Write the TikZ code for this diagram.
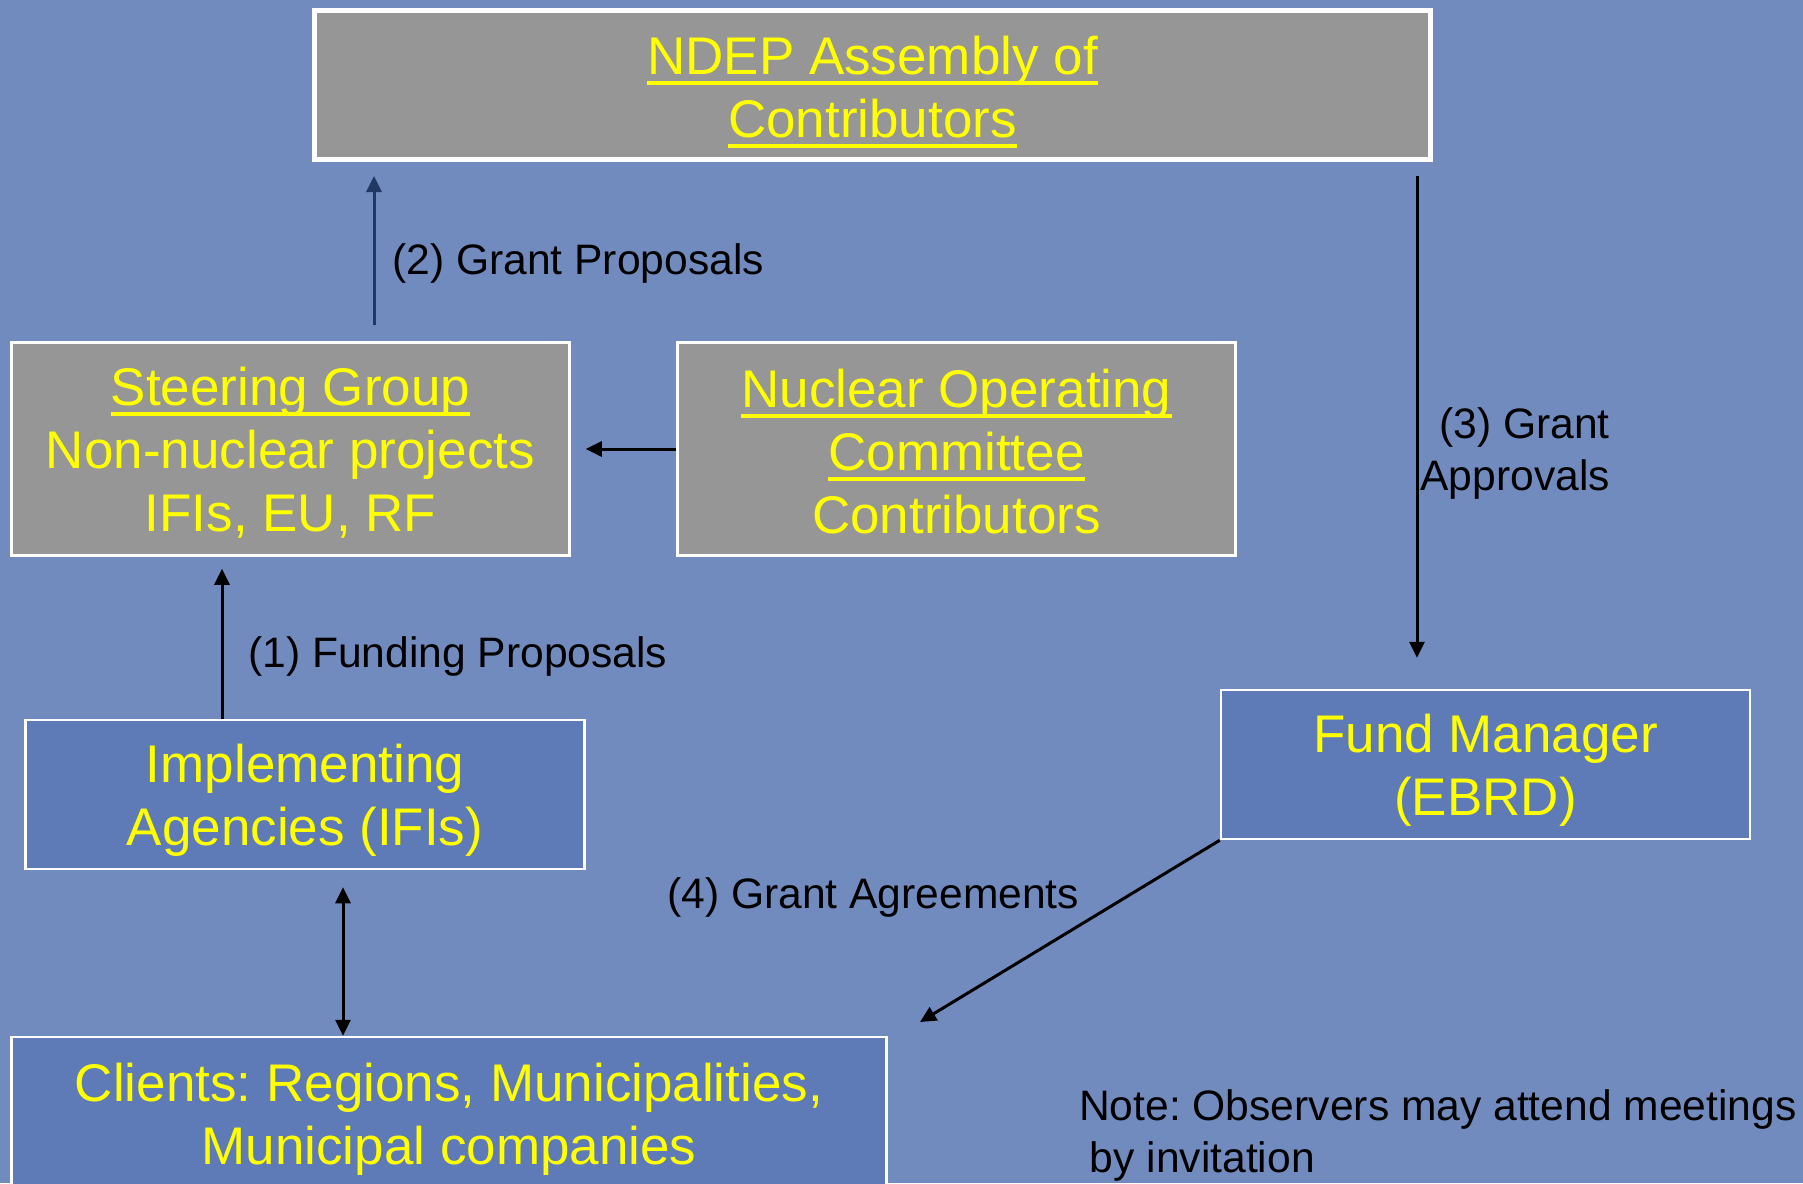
\documentclass[tikz,border=0pt]{standalone}
\usepackage{fontspec}
\setmainfont{Liberation Sans}
\usetikzlibrary{arrows.meta}
\definecolor{bgblue}{RGB}{114,139,190}
\definecolor{boxblue}{RGB}{94,122,183}
\definecolor{boxgray}{RGB}{150,150,150}
\definecolor{navyarrow}{RGB}{31,56,100}
\definecolor{ylw}{RGB}{255,255,0}
\newsavebox\ulbox
\newcommand\myul[1]{\sbox\ulbox{#1}\rlap{\rule[-0.19em]{\wd\ulbox}{0.07em}}\usebox\ulbox}
\frenchspacing
\begin{document}
\begin{tikzpicture}[x=1pt,y=-1pt,
  box/.style={draw=white, line width=2.5pt, inner sep=0pt},
  graybox/.style={box, fill=boxgray},
  bluebox/.style={box, fill=boxblue},
  boxtext/.style={inner sep=0pt, align=center, text=ylw, font=\fontsize{53}{63}\selectfont},
  lbl/.style={inner sep=0pt, text=black, font=\fontsize{42.6}{52}\selectfont},
  tipshape/.style={Triangle[length=16pt,width=15pt]},
  arr/.style={line width=3pt, -{Triangle[length=16pt,width=15pt]}},
]
\useasboundingbox (0,0) rectangle (1803,1183);
\fill[bgblue] (0,0) rectangle (1803,1183);

\node[graybox, line width=5pt, minimum width=1116pt, minimum height=149pt] (ndep) at (872.5,85) {};
\node[graybox, minimum width=558pt, minimum height=213pt] (sg) at (290.5,449) {};
\node[graybox, minimum width=558pt, minimum height=213pt] (noc) at (956.5,449) {};
\node[bluebox, minimum width=559pt, minimum height=149pt] (impl) at (305,794.5) {};
\node[bluebox, minimum width=529pt, minimum height=149pt] (fund) at (1485.5,764.5) {};
\node[bluebox, minimum width=875pt, minimum height=156pt] (clients) at (449,1115) {};

\node[boxtext, yshift=-7pt] (ndept) at (ndep) {\myul{NDEP Assembly of}\\\myul{Contributors}};
\node[boxtext, yshift=-4pt] (sgt) at (sg) {\myul{Steering Group}\\Non-nuclear projects\\IFIs, EU, RF};
\node[boxtext, yshift=-2.5pt] (noct) at (noc) {\myul{Nuclear Operating}\\\myul{Committee}\\Contributors};
\node[boxtext, yshift=-6pt] (implt) at (impl) {Implementing\\Agencies (IFIs)};
\node[boxtext, yshift=-6pt] (fundt) at (fund) {Fund Manager\\(EBRD)};
\node[boxtext, yshift=-4pt] (clientst) at (clients) {Clients: Regions, Municipalities,\\Municipal companies};

\node[lbl, anchor=west] (l2) at (392,263) {(2) Grant Proposals};
\node[lbl, anchor=west] (l1) at (248,656) {(1) Funding Proposals};
\node[lbl, anchor=east, align=right] (l3) at (1610,453) {(3) Grant\\Approvals};
\node[lbl, anchor=west] (l4) at (667,897) {(4) Grant Agreements};
\node[lbl, anchor=west, align=left] (note) at (1079,1135) {Note: Observers may attend meetings\\\hspace{0.25em}by invitation};

\coordinate (x2) at (374,0);
\coordinate (x3) at (1417,0);
\coordinate (x1) at (222,0);
\coordinate (xd) at (343,0);
\coordinate (tip4) at (920,1022);

\draw[arr, draw=navyarrow, fill=navyarrow] (x2 |- sg.north) -- (x2 |- ndep.south) [shorten <=16pt, shorten >=14pt];
\draw[arr] (x3 |- ndep.south) -- (x3 |- fund.north) [shorten <=14pt, shorten >=31pt];
\draw[arr] (noc.west) -- (sg.east) [shorten >=15pt];
\draw[arr] (x1 |- impl.north) -- (x1 |- sg.south) [shorten >=12pt];
\draw[line width=3pt, {Triangle[length=16pt,width=15pt]}-{Triangle[length=16pt,width=15pt]}, shorten <=17pt] (xd |- impl.south) -- (xd |- clients.north);
\draw[arr] (fund.south west) -- (tip4);
\end{tikzpicture}
\end{document}
